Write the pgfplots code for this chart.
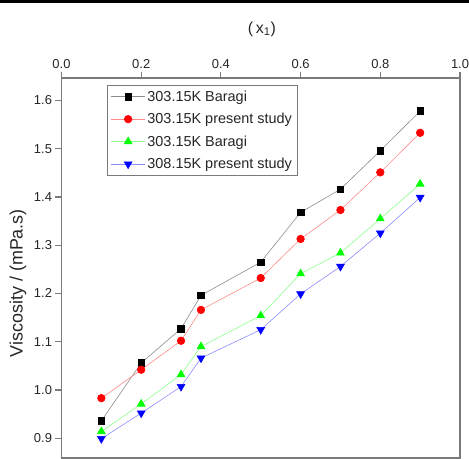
\documentclass[border=0pt]{standalone}
\usepackage{pgfplots}
\pgfplotsset{compat=1.18}
\usepackage{fontspec}
\setmainfont{Liberation Sans}
\definecolor{axgray}{HTML}{7A7A7A}
\begin{document}
\begin{tikzpicture}
\useasboundingbox (0,0) rectangle (469bp,459bp);
\fill[black] (0,455.5bp) rectangle (469bp,459bp);
\begin{axis}[
  at={(61.5bp,1bp)}, anchor=south west,
  scale only axis, width=398.5bp, height=380bp,
  xmin=0, xmax=1, ymin=0.859, ymax=1.6466,
  xtick={0,0.2,0.4,0.6,0.8,1.0},
  ytick={0.9,1.0,1.1,1.2,1.3,1.4,1.5,1.6},
  xtick pos=right, xticklabel pos=right,
  ytick pos=left, yticklabel pos=left,
  tick align=outside, major tick length=6bp,
  axis line style={axgray, line width=1.3pt},
  every tick/.style={axgray, line width=1.1pt},
  /pgf/number format/assume math mode=true,
  xticklabel style={/pgf/number format/.cd, fixed, fixed zerofill, precision=1},
  yticklabel style={/pgf/number format/.cd, fixed, fixed zerofill, precision=1},
  tick label style={font=\fontsize{13}{15}\selectfont, text=black!85},
  xlabel={(\,x\textsubscript{1})}, ylabel={Viscosity / (mPa.s)},
  every axis x label/.style={at={(axis description cs:0.503,1.129)}, anchor=center, font=\fontsize{16}{18}\selectfont, text=black!85},
  every axis y label/.style={at={(axis description cs:-0.109,0.46)}, anchor=center, rotate=90, font=\fontsize{18}{20}\selectfont, text=black!85},
  legend style={at={(axis description cs:0.114,0.982)}, anchor=north west, draw=axgray, line width=0.8pt,
    font=\fontsize{14.5}{17}\selectfont, row sep=6.5bp, inner sep=3.5bp, text=black!85},
  legend cell align=left,
  legend image code/.code={\draw[mark repeat=2, mark phase=2] plot coordinates {(0bp,0bp) (17bp,0bp) (34bp,0bp)};},
]
\addplot[color=black!45, line width=0.6pt, mark=square*, mark size=3.3bp, mark options={fill=black, draw=black}] coordinates {
(0.1,0.936) (0.2,1.056) (0.3,1.127) (0.35,1.196) (0.5,1.265) (0.6,1.368) (0.7,1.416) (0.8,1.496) (0.9,1.578)};
\addlegendentry{303.15K Baragi}
\addplot[color=red!45, line width=0.6pt, mark=*, mark size=3.8bp, mark options={fill=red, draw=red}] coordinates {
(0.1,0.983) (0.2,1.042) (0.3,1.102) (0.35,1.166) (0.5,1.232) (0.6,1.313) (0.7,1.373) (0.8,1.451) (0.9,1.533)};
\addlegendentry{303.15K present study}
\addplot[color=green!45, line width=0.6pt, mark=triangle*, mark size=4.5bp, mark options={fill=green, draw=green}] coordinates {
(0.1,0.914) (0.2,0.971) (0.3,1.032) (0.35,1.090) (0.5,1.154) (0.6,1.241) (0.7,1.284) (0.8,1.355) (0.9,1.427)};
\addlegendentry{303.15K Baragi}
\addplot[color=blue!45, line width=0.6pt, mark=triangle*, mark size=4.5bp, mark options={fill=blue, draw=blue, rotate=180}] coordinates {
(0.1,0.899) (0.2,0.952) (0.3,1.007) (0.35,1.066) (0.5,1.125) (0.6,1.199) (0.7,1.256) (0.8,1.325) (0.9,1.399)};
\addlegendentry{308.15K present study}
\end{axis}
\end{tikzpicture}
\end{document}
